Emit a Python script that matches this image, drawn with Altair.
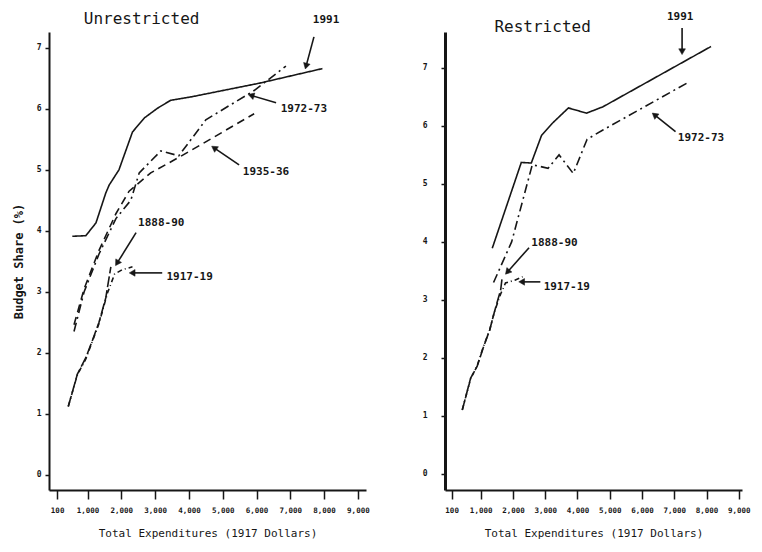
import math
import altair as alt
import pandas as pd

# ---------------- data ----------------
# Unrestricted panel
U_1991_x = [550, 950, 1250, 1540, 1640, 1930, 2330, 2680, 3070, 3460, 4100, 6080, 7950]
U_1991_y = [3.91, 3.92, 4.13, 4.62, 4.75, 5.00, 5.62, 5.85, 6.01, 6.14, 6.20, 6.42, 6.66]
U_1972_x = [600, 900, 1340, 1840, 2280, 2530, 3170, 3700, 4500, 5930, 6870]
U_1972_y = [2.35, 3.00, 3.62, 4.20, 4.50, 4.95, 5.31, 5.23, 5.82, 6.30, 6.70]
U_1935_x = [600, 900, 1340, 1840, 2230, 2870, 3560, 4100, 5930]
U_1935_y = [2.46, 3.05, 3.68, 4.28, 4.65, 4.95, 5.16, 5.33, 5.92]
U_1888_x = [430, 700, 950, 1150, 1340, 1540, 1690]
U_1888_y = [1.12, 1.65, 1.92, 2.21, 2.50, 2.90, 3.41]
U_1917_x = [430, 700, 950, 1150, 1340, 1590, 1800, 2020, 2330]
U_1917_y = [1.12, 1.64, 1.90, 2.20, 2.48, 2.98, 3.29, 3.36, 3.41]

# Restricted panel
R_1991_x = [1360, 2260, 2570, 2890, 3230, 3720, 4280, 4790, 8140]
R_1991_y = [3.89, 5.37, 5.36, 5.84, 6.05, 6.31, 6.22, 6.33, 7.37]
R_1972_x = [1400, 1960, 2600, 3090, 3430, 3870, 4300, 4790, 7430]
R_1972_y = [3.30, 4.00, 5.33, 5.27, 5.50, 5.18, 5.77, 5.93, 6.75]
R_1888_x = [430, 690, 890, 1090, 1280, 1430, 1620, 1670]
R_1888_y = [1.10, 1.65, 1.85, 2.19, 2.48, 2.80, 3.17, 3.40]
R_1917_x = [430, 690, 890, 1090, 1280, 1430, 1620, 1770, 2060, 2300]
R_1917_y = [1.10, 1.64, 1.86, 2.20, 2.48, 2.80, 3.10, 3.29, 3.34, 3.40]

SERIES = ["1991", "1972-73", "1935-36", "1888-90", "1917-19"]
X_TICKS = [100, 1000, 2000, 3000, 4000, 5000, 6000, 7000, 8000, 9000]
Y_TICKS = [0, 1, 2, 3, 4, 5, 6, 7]

# annotation labels: text position and arrow tail -> head (data units)
U_LAB = ["1991", "1972-73", "1935-36", "1888-90", "1917-19"]
U_LAB_X = [8060, 7400, 6280, 3180, 4020]
U_LAB_Y = [7.46, 6.00, 4.97, 4.13, 3.25]
U_TAIL_X = [7700, 6580, 5485, 2437, 3210]
U_TAIL_Y = [7.18, 6.10, 5.08, 3.97, 3.31]
U_HEAD_X = [7467, 5840, 4745, 1875, 2320]
U_HEAD_Y = [6.70, 6.22, 5.36, 3.47, 3.31]

R_LAB = ["1991", "1972-73", "1888-90", "1917-19"]
R_LAB_X = [7185, 7830, 3290, 3670]
R_LAB_Y = [7.88, 5.79, 3.98, 3.22]
R_TAIL_X = [7243, 7040, 2500, 2850]
R_TAIL_Y = [7.69, 5.90, 3.90, 3.31]
R_HEAD_X = [7243, 6390, 1830, 2270]
R_HEAD_Y = [7.28, 6.19, 3.48, 3.31]

FONT = "DejaVu Sans Mono"
INK = "#161616"

DASH = {
    "1991": [1, 0],
    "1972-73": [9, 4, 2, 4],
    "1935-36": [8, 5],
    "1888-90": [11, 3],
    "1917-19": [5, 3, 1, 3],
}


def lines_df(pairs):
    rows = []
    for name, xs, ys in pairs:
        for xv, yv in zip(xs, ys):
            rows.append({"series": name, "x": xv, "y": yv})
    return pd.DataFrame(rows)


def panel(title, title_x, title_y, pairs, labs, lx, ly, tx, ty, hx, hy,
          xdom, ydom, width, height, ytitle, ylabpad, ydomw):
    xs = alt.Scale(domain=xdom, nice=False, zero=False)
    ys = alt.Scale(domain=ydom, nice=False, zero=False)
    xaxis = alt.Axis(values=X_TICKS, format=",d", title="Total Expenditures (1917 Dollars)",
                     grid=False, domainColor=INK, domainWidth=2, tickColor=INK,
                     tickWidth=1.5, tickSize=9, labelFont=FONT, labelFontSize=7.5,
                     labelFontWeight="bold", labelColor=INK, labelPadding=7,
                     labelFlush=False, labelOverlap=False,
                     titleFont=FONT, titleFontSize=11, titleFontWeight="normal",
                     titleColor=INK, titlePadding=14)
    yaxis = alt.Axis(values=Y_TICKS, format="d", title=ytitle, grid=False,
                     domainColor=INK, domainWidth=ydomw, tickColor=INK, tickWidth=1.5,
                     tickSize=4, labelFont=FONT, labelFontSize=8, labelFontWeight="bold",
                     labelColor=INK, labelPadding=ylabpad, labelFlush=False,
                     titleFont=FONT, titleFontSize=12, titleFontWeight="bold",
                     titleColor=INK, titlePadding=11)

    def X(f):
        return alt.X(f, type="quantitative", scale=xs, axis=xaxis)

    def Y(f):
        return alt.Y(f, type="quantitative", scale=ys, axis=yaxis)

    ldf = lines_df(pairs)
    present = [s for s in SERIES if s in set(ldf["series"])]
    lines = alt.Chart(ldf).mark_line(color=INK, strokeWidth=1.6).encode(
        x=X("x"), y=Y("y"),
        detail="series:N",
        strokeDash=alt.StrokeDash("series:N", scale=alt.Scale(domain=present, range=[DASH[s] for s in present]), legend=None),
    )

    # pixels per data unit, for arrowhead orientation
    sx = width / (xdom[1] - xdom[0])
    sy = height / (ydom[1] - ydom[0])
    angs = []
    for a, b, c, d in zip(tx, ty, hx, hy):
        dxp = (c - a) * sx
        dyp = -(d - b) * sy
        angs.append((math.degrees(math.atan2(dxp, -dyp)) + 360) % 360)
    adf = pd.DataFrame({"x": tx, "y": ty, "hx": hx, "hy": hy, "ang": angs})
    rules = alt.Chart(adf).mark_rule(color=INK, strokeWidth=1.6).encode(
        x=X("x"), y=Y("y"), x2="hx", y2="hy")
    heads = alt.Chart(adf).mark_point(shape="triangle-up", filled=True, fill=INK, stroke=INK,
                                      strokeWidth=0.5, size=45, opacity=1).encode(
        x=X("hx"), y=Y("hy"), angle=alt.Angle("ang:Q", scale=None))

    tdf = pd.DataFrame({"x": lx, "y": ly, "t": labs})
    texts = alt.Chart(tdf).mark_text(font=FONT, fontSize=11, fontWeight="bold", color=INK).encode(
        x=X("x"), y=Y("y"), text="t:N")

    ttl = alt.Chart(pd.DataFrame({"x": [title_x], "y": [title_y], "t": [title]})).mark_text(
        font=FONT, fontSize=16, color=INK).encode(x=X("x"), y=Y("y"), text="t:N")

    return alt.layer(lines, rules, heads, texts, ttl).properties(width=width, height=height)


left = panel("Unrestricted", 2600, 7.48,
             [("1991", U_1991_x, U_1991_y), ("1972-73", U_1972_x, U_1972_y),
              ("1935-36", U_1935_x, U_1935_y), ("1888-90", U_1888_x, U_1888_y),
              ("1917-19", U_1917_x, U_1917_y)],
             U_LAB, U_LAB_X, U_LAB_Y, U_TAIL_X, U_TAIL_Y, U_HEAD_X, U_HEAD_Y,
             [-140, 9240], [-0.25, 7.26], 317, 458, "Budget Share (%)", 4, 2)

right = panel("Restricted", 2920, 7.71,
              [("1991", R_1991_x, R_1991_y), ("1972-73", R_1972_x, R_1972_y),
               ("1888-90", R_1888_x, R_1888_y), ("1917-19", R_1917_x, R_1917_y)],
              R_LAB, R_LAB_X, R_LAB_Y, R_TAIL_X, R_TAIL_Y, R_HEAD_X, R_HEAD_Y,
              [-105, 9100], [-0.28, 7.62], 297, 458, None, 14, 3)

chart = alt.hconcat(left, right, spacing=52).properties(
    padding={"left": 4, "top": 2, "right": 0, "bottom": 0},
    background="white",
).configure_view(stroke=None, strokeWidth=0)

chart.save("out.html", embed_options={"renderer": "svg", "actions": False})
